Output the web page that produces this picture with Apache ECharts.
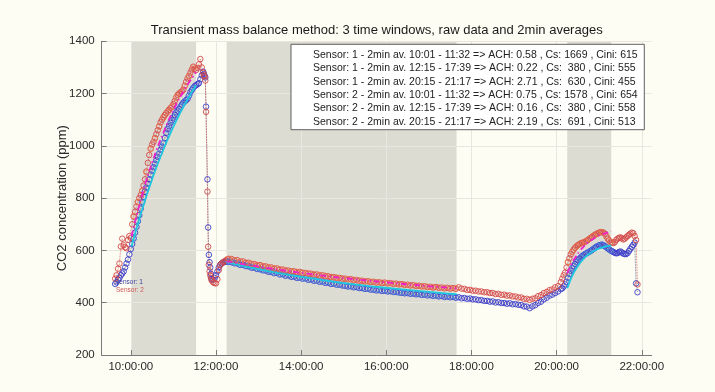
<!DOCTYPE html>
<html>
<head>
<meta charset="utf-8">
<script src="https://cdn.jsdelivr.net/npm/echarts@6/dist/echarts.min.js"></script>
<style>
  html, body { margin: 0; padding: 0; background: #fdfdf3; }
  #chart { width: 715px; height: 392px; }
</style>
</head>
<body>
<div id="chart"></div>
<script>
// ---- time windows used for the mass balance fits ----
const windowStarts = ['10:01', '12:15', '20:15'];
const windowEnds   = ['11:32', '17:39', '21:17'];

// ---- x axis ticks ----
const xTickTimes = ['10:00', '12:00', '14:00', '16:00', '18:00', '20:00', '22:00'];
const yTicks = [200, 400, 600, 800, 1000, 1200, 1400];

// ---- raw readings: build-up and first window (2 min) ----
const riseTimes = ['9:38','9:40','9:42','9:44','9:46','9:48','9:50','9:52','9:54','9:56','9:58',
  '10:00','10:02','10:04','10:06','10:08','10:10','10:12','10:14','10:16','10:18','10:20','10:22','10:24','10:26','10:28',
  '10:30','10:32','10:34','10:36','10:38','10:40','10:42','10:44','10:46','10:48','10:50','10:52','10:54','10:56','10:58',
  '11:00','11:02','11:04','11:06','11:08','11:10','11:12','11:14','11:16','11:18','11:20','11:22','11:24','11:26','11:28',
  '11:30','11:32','11:34','11:36','11:38','11:40','11:42'];
const riseSensor1 = [472,478,488,495,505,512,520,535,550,565,585,
  605,625,645,668,690,712,735,760,785,805,825,840,855,872,890,
  905,918,932,945,958,970,985,997,1010,1030,1050,1065,1075,1088,1098,
  1108,1118,1128,1135,1142,1150,1158,1165,1170,1175,1180,1192,1205,1214,1222,
  1228,1232,1236,1240,1255,1270,1284];
const riseSensor2 = [492,505,530,550,615,645,620,612,608,640,655,
  648,700,729,748,768,785,800,812,828,848,872,902,935,965,990,
  1005,1015,1030,1045,1060,1075,1090,1100,1110,1118,1125,1132,1138,1145,1150,
  1160,1172,1185,1195,1200,1205,1208,1215,1230,1245,1258,1268,1280,1292,1303,
  1295,1290,1298,1312,1332,1300,1280];

// ---- ventilation: fast drop ----
const dropTimes   = ['11:43','11:44','11:45','11:46','11:48','11:49','11:50','11:51','11:52','11:53','11:54'];
const dropSensor1 = [1275,1268,1262,1150,872,688,583,555,535,510,490];
const dropSensor2 = [1270,1266,1250,1130,825,614,545,520,505,495,485];

// ---- recovery before the second window ----
const dipTimes   = ['11:56','11:58','12:00','12:02','12:04','12:06','12:08','12:10','12:12','12:14','12:16','12:18'];
const dipSensor1 = [488,495,505,520,535,545,550,554,556,558,557,556];
const dipSensor2 = [478,475,474,490,525,544,550,555,558,562,566,568];

// ---- slow decay (4 min) ----
const decayTimes = ['12:22','12:26','12:30','12:34','12:38','12:42','12:46','12:50','12:54','12:58',
  '13:02','13:06','13:10','13:14','13:18','13:22','13:26','13:30','13:34','13:38','13:42','13:46','13:50','13:54','13:58',
  '14:02','14:06','14:10','14:14','14:18','14:22','14:26','14:30','14:34','14:38','14:42','14:46','14:50','14:54','14:58',
  '15:02','15:06','15:10','15:14','15:18','15:22','15:26','15:30','15:34','15:38','15:42','15:46','15:50','15:54','15:58',
  '16:02','16:06','16:10','16:14','16:18','16:22','16:26','16:30','16:34','16:38','16:42','16:46','16:50','16:54','16:58',
  '17:02','17:06','17:10','17:14','17:18','17:22','17:26','17:30','17:34','17:38','17:42','17:46','17:50','17:54','17:58',
  '18:02','18:06','18:10','18:14','18:18','18:22','18:26','18:30','18:34','18:38','18:42','18:46','18:50','18:54','18:58',
  '19:02','19:06','19:10','19:14','19:18','19:22','19:26','19:30','19:34','19:38','19:42','19:46','19:50','19:54','19:58',
  '20:02','20:06'];
const decaySensor1 = [555,551,550,545,545,540,539,534,534,529,
  528,524,523,518,518,513,514,508,509,503,505,499,500,495,496,
  492,493,488,489,484,485,480,481,476,477,472,473,469,469,466,
  465,462,463,459,460,456,456,453,454,450,450,447,448,445,446,
  443,444,441,441,439,438,436,437,434,435,432,433,430,431,428,
  429,426,428,424,426,422,424,421,423,419,421,417,418,415,416,
  413,413,410,410,407,407,404,405,401,402,399,399,396,398,394,
  395,392,391,386,385,379,386,391,399,404,413,419,427,431,437,
  443,452];
const decaySensor2 = [567,562,563,557,558,552,553,548,548,543,
  544,539,539,535,535,530,531,526,527,523,523,520,520,517,518,
  514,514,511,511,507,508,504,505,501,501,498,498,495,495,492,
  492,489,490,486,487,484,484,481,482,479,480,477,478,475,477,
  474,475,472,473,470,471,468,469,466,467,464,465,462,463,460,
  461,458,460,457,458,455,457,454,456,453,459,454,453,449,449,
  446,446,443,443,440,440,437,437,433,434,430,431,427,428,424,
  424,420,420,415,415,411,415,417,425,429,437,441,448,451,459,
  463,479];

// ---- third window and end of measurement (2 min) ----
const lateTimes = ['20:08','20:10','20:12','20:14','20:16','20:18','20:20','20:22','20:24','20:26','20:28',
  '20:30','20:32','20:34','20:36','20:38','20:40','20:42','20:44','20:46','20:48','20:50','20:52','20:54','20:56','20:58',
  '21:00','21:02','21:04','21:06','21:08','21:10','21:12','21:14','21:16','21:18','21:20','21:22','21:24','21:26','21:28',
  '21:30','21:32','21:34','21:36','21:38','21:40','21:42','21:44','21:46','21:48','21:50','21:52','21:54'];
const lateSensor1 = [455,462,470,480,495,510,522,532,540,548,556,
  562,568,573,578,582,586,589,592,595,598,602,606,610,614,617,
  619,621,622,620,616,612,608,604,600,597,594,591,589,590,594,
  596,592,588,586,586,590,598,606,614,621,630,474,440];
const lateSensor2 = [492,505,515,535,555,570,585,595,603,610,616,
  620,624,627,629,631,633,636,640,644,648,652,656,660,663,666,
  668,670,670,668,664,655,645,638,632,630,628,632,640,645,648,
  650,646,642,645,650,655,660,664,668,666,655,640,470];

// ---- 2 min averages inside the windows ----
const avgTimes1 = ['10:04','10:10','10:16','10:22','10:28','10:34','10:40','10:46','10:52','10:58','11:04','11:10','11:16','11:22','11:28'];
const avg1Sensor1 = [648,712,783,838,888,930,970,1010,1062,1096,1126,1150,1170,1192,1222];
const avg1Sensor2 = [732,786,826,898,988,1028,1073,1108,1130,1150,1183,1204,1228,1266,1300];
const avgTimes2 = ['12:18','12:26','12:34','12:42','12:50','12:58','13:06','13:14','13:22','13:30','13:38','13:46','13:54',
  '14:02','14:10','14:18','14:26','14:34','14:42','14:50','14:58','15:06','15:14','15:22','15:30','15:38','15:46','15:54',
  '16:02','16:10','16:18','16:26','16:34','16:42','16:50','16:58','17:06','17:14','17:22','17:30','17:38'];
const avg2Sensor1 = [557,552,546,541,536,530,525,520,514,510,505,501,497,
  493,489,486,482,478,474,470,467,464,461,458,455,452,449,447,
  445,442,440,438,436,434,432,430,428,426,425,423,422];
const avg2Sensor2 = [567,562,558,554,549,545,541,536,532,528,525,521,518,
  515,512,509,506,503,499,496,493,490,488,485,483,480,478,477,
  475,473,471,469,467,465,463,461,460,458,457,455,455];
const avgTimes3 = ['20:16','20:22','20:28','20:34','20:40','20:46','20:52','20:58','21:04','21:10','21:16'];
const avg3Sensor1 = [494,531,556,573,586,595,606,617,622,612,600];
const avg3Sensor2 = [556,594,616,627,634,644,656,666,670,655,632];

// ---- fitted curves (ACH, Cs, Cini from the legend) ----
const fitTimes1 = ['10:01','10:16','10:31','10:46','11:01','11:16','11:32'];
const fit1Sensor1 = [615,757,880,987,1079,1159,1232];
const fit1Sensor2 = [654,812,943,1051,1142,1216,1282];
const fitTimes2 = ['12:15','13:15','14:15','15:15','16:15','17:15','17:39'];
const fit2Sensor1 = [555,520,493,470,453,438,433];
const fit2Sensor2 = [558,532,509,490,474,460,455];
const fitTimes3 = ['20:15','20:21','20:27','20:33','20:39','20:45','20:51','20:57','21:03','21:09','21:17'];
const fit3Sensor1 = [455,497,528,552,571,585,596,604,610,615,619];
const fit3Sensor2 = [513,548,576,599,617,632,643,653,660,666,673];

const legendLines = [
  'Sensor: 1 - 2min av. 10:01 - 11:32 => ACH: 0.58 , Cs: 1669 , Cini: 615',
  'Sensor: 1 - 2min av. 12:15 - 17:39 => ACH: 0.22 , Cs:  380 , Cini: 555',
  'Sensor: 1 - 2min av. 20:15 - 21:17 => ACH: 2.71 , Cs:  630 , Cini: 455',
  'Sensor: 2 - 2min av. 10:01 - 11:32 => ACH: 0.75 , Cs: 1578 , Cini: 654',
  'Sensor: 2 - 2min av. 12:15 - 17:39 => ACH: 0.16 , Cs:  380 , Cini: 558',
  'Sensor: 2 - 2min av. 20:15 - 21:17 => ACH: 2.19 , Cs:  691 , Cini: 513'
];
const titleText = 'Transient mass balance method: 3 time windows, raw data and 2min averages';
const yAxisTitle = 'CO2 concentration (ppm)';

// ---- helpers ----
const toMin = s => { const p = s.split(':'); return Number(p[0]) * 60 + Number(p[1]); };
const pair = (times, vals) => times.map((t, i) => [toMin(t), vals[i]]);
const fmtTick = v => String(Math.floor(v / 60)).padStart(2, '0') + ':' + String(v % 60).padStart(2, '0') + ':00';

const raw1 = [].concat(pair(riseTimes, riseSensor1), pair(dropTimes, dropSensor1), pair(dipTimes, dipSensor1),
                       pair(decayTimes, decaySensor1), pair(lateTimes, lateSensor1));
const raw2 = [].concat(pair(riseTimes, riseSensor2), pair(dropTimes, dropSensor2), pair(dipTimes, dipSensor2),
                       pair(decayTimes, decaySensor2), pair(lateTimes, lateSensor2));

const FONT = '"Liberation Sans", Arial, Helvetica, sans-serif';
const GRID = { left: 101.7, right: 63.3, top: 41.3, bottom: 37 };

const rawSeries = (name, data, color, lineColor) => ({
  name, type: 'line', data, z: 3,
  symbol: 'circle', symbolSize: 5.5, showSymbol: true,
  itemStyle: { color: 'rgba(0,0,0,0)', borderColor: color, borderWidth: 0.9 },
  lineStyle: { color: lineColor, width: 0.8, type: 'dotted' },
  silent: true
});
const avgSeries = (name, data, color) => ({
  name, type: 'scatter', data, z: 4,
  symbol: 'circle', symbolSize: 5.5,
  itemStyle: { color: 'rgba(0,0,0,0)', borderColor: color, borderWidth: 0.9 },
  silent: true
});
const fitSeries = (name, data, color, dash) => ({
  name, type: 'line', data, z: 5, smooth: true, showSymbol: false, symbol: 'none',
  lineStyle: { color, width: 1.8, type: dash },
  silent: true
});

const chart = echarts.init(document.getElementById('chart'), null, { renderer: 'canvas' });

const option = {
  animation: false,
  backgroundColor: '#fdfdf3',
  grid: GRID,
  xAxis: {
    type: 'value', z: 1,
    min: toMin('9:19'), max: 1334,
    axisLine: { show: true, lineStyle: { color: '#7a7a7a', width: 1 } },
    axisTick: { show: true, inside: true, length: 5, lineStyle: { color: '#7a7a7a' },
                customValues: xTickTimes.map(toMin) },
    axisLabel: { customValues: xTickTimes.map(toMin), formatter: fmtTick, margin: 6,
                 color: '#2a2a2a', fontSize: 11.5, fontFamily: FONT },
    splitLine: { show: true, lineStyle: { color: '#e7e7df', width: 1 } }
  },
  yAxis: {
    type: 'value', z: 1,
    min: yTicks[0], max: yTicks[yTicks.length - 1], interval: 200,
    name: yAxisTitle, nameLocation: 'middle', nameGap: 33, nameRotate: 90,
    nameMoveOverlap: false,
    nameTextStyle: { color: '#2a2a2a', fontSize: 13, fontFamily: FONT },
    axisLine: { show: true, lineStyle: { color: '#7a7a7a', width: 1 } },
    axisTick: { show: true, inside: true, length: 5, lineStyle: { color: '#7a7a7a' } },
    axisLabel: { margin: 7, color: '#2a2a2a', fontSize: 11.5, fontFamily: FONT,
                 formatter: v => String(v) },
    splitLine: { show: true, lineStyle: { color: '#e7e7df', width: 1 } }
  },
  series: [
    {
      // shaded fit windows, drawn beneath the grid lines
      name: 'windows', type: 'custom', z: 0, silent: true,
      data: windowStarts.map((s, i) => [toMin(s), toMin(windowEnds[i])]),
      renderItem: (params, api) => {
        const a = api.coord([api.value(0), 1400]);
        const b = api.coord([api.value(1), 200]);
        return { type: 'rect', shape: { x: a[0], y: a[1], width: b[0] - a[0], height: b[1] - a[1] },
                 style: { fill: '#dcdcd3' } };
      }
    },
    rawSeries('Sensor 1', raw1, '#3b3bc8', '#55557a'),
    rawSeries('Sensor 2', raw2, '#d24848', '#cc5555'),
    avgSeries('Sensor 1 av. w1', pair(avgTimes1, avg1Sensor1), '#4a8fe0'),
    avgSeries('Sensor 2 av. w1', pair(avgTimes1, avg1Sensor2), '#f07a4a'),
    avgSeries('Sensor 1 av. w2', pair(avgTimes2, avg2Sensor1), '#4a8fe0'),
    avgSeries('Sensor 2 av. w2', pair(avgTimes2, avg2Sensor2), '#f07a4a'),
    avgSeries('Sensor 1 av. w3', pair(avgTimes3, avg3Sensor1), '#4a8fe0'),
    avgSeries('Sensor 2 av. w3', pair(avgTimes3, avg3Sensor2), '#f07a4a'),
    fitSeries('Sensor 1 fit w1', pair(fitTimes1, fit1Sensor1), '#1fc8dc', 'solid'),
    fitSeries('Sensor 2 fit w1', pair(fitTimes1, fit1Sensor2), '#ee22c8', [6, 3, 1.5, 3]),
    fitSeries('Sensor 1 fit w2', pair(fitTimes2, fit2Sensor1), '#1fc8dc', 'solid'),
    fitSeries('Sensor 2 fit w2', pair(fitTimes2, fit2Sensor2), '#ee22c8', [6, 3, 1.5, 3]),
    fitSeries('Sensor 1 fit w3', pair(fitTimes3, fit3Sensor1), '#1fc8dc', 'solid'),
    fitSeries('Sensor 2 fit w3', pair(fitTimes3, fit3Sensor2), '#ee22c8', [6, 3, 1.5, 3])
  ],
  graphic: [
    { type: 'text', x: 376.7, y: 30, z: 20,
      style: { text: titleText, align: 'center', verticalAlign: 'middle',
               font: '13px ' + FONT, fill: '#1a1a1a' } },
    { type: 'rect', z: 20, shape: { x: 291, y: 44.3, width: 353.3, height: 85.4 },
      style: { fill: '#ffffff', stroke: '#3a3a3a', lineWidth: 0.8 } },
    ...legendLines.map((t, i) => ({
      type: 'text', z: 21, x: 313, y: 55 + i * 13.35,
      style: { text: t, align: 'left', verticalAlign: 'middle', font: '10.5px ' + FONT, fill: '#222' }
    })),
    { type: 'text', z: 21, x: 115, y: 282.3,
      style: { text: 'Sensor: 1', align: 'left', verticalAlign: 'middle', font: '6.5px ' + FONT, fill: '#3c3c9c' } },
    { type: 'text', z: 21, x: 116, y: 290,
      style: { text: 'Sensor: 2', align: 'left', verticalAlign: 'middle', font: '6.5px ' + FONT, fill: '#d05858' } }
  ]
};

chart.setOption(option);
</script>
</body>
</html>
